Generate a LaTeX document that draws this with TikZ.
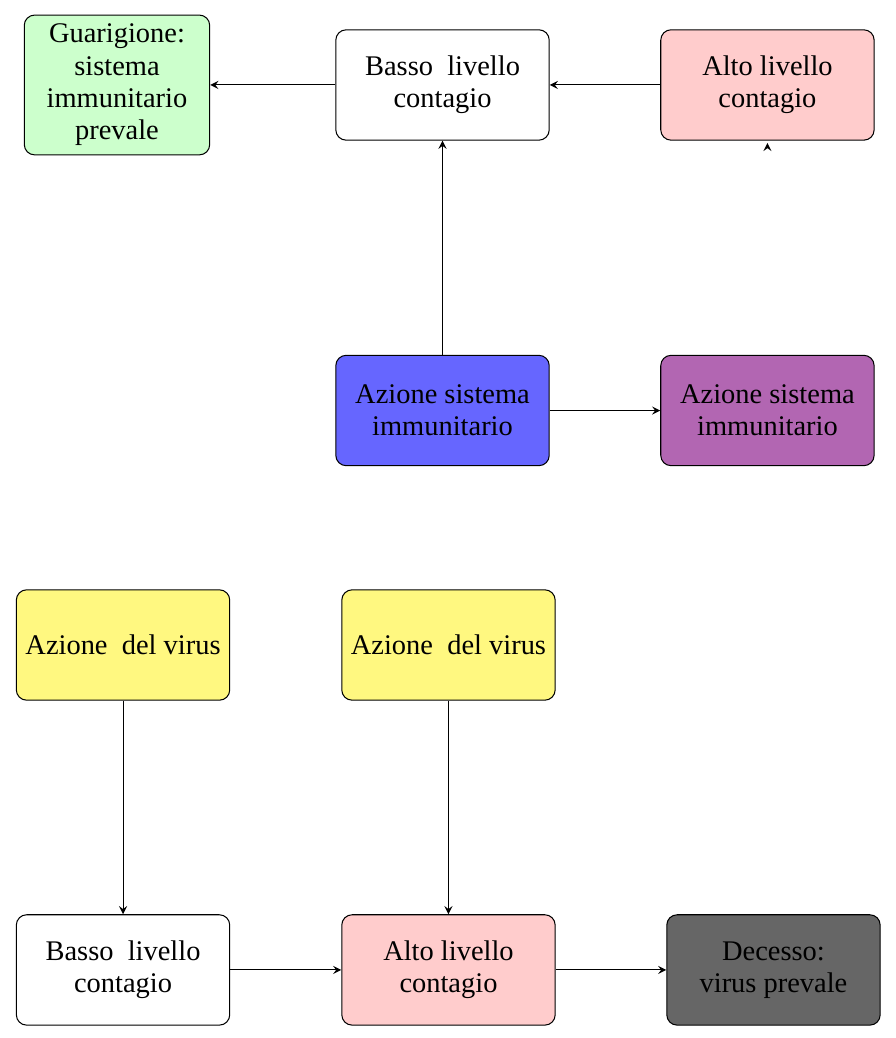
\documentclass[tikz,border=0pt]{standalone}
\usepackage{fontspec}
\setmainfont{Liberation Serif}[Ligatures=TeX]
\usetikzlibrary{arrows}

\tikzset{
  stato/.style={draw, rounded corners=4pt, align=center, minimum width=2.9cm,
    minimum height=1.5cm, font=\rmfamily\fontsize{11}{12.5}\selectfont},
  esito/.style={stato, text width=2.3cm, minimum width=0pt, minimum height=1.9cm, inner sep=0.11cm},
  freccia/.style={arrows={-stealth}, line width=.4pt}
}

\begin{document}
\begin{tikzpicture}
\useasboundingbox (0,0) rectangle (12.177,-14.107);

%sistema immunitario
\node[esito, fill=green!20] at (1.590,-1.155) (guarigione) {Guarigione:\\sistema\\immunitario\\prevale};
\node[stato, fill=white] at (6.014,-1.155) (bassoSu) {Basso\ \ livello\\contagio};
\node[stato, fill=red!20] at (10.430,-1.155) (altoSu) {Alto livello\\contagio};
\node[stato, fill=blue!60] at (6.014,-5.579) (immuno) {Azione sistema\\immunitario};
\node[stato, fill=violet!60] at (10.430,-5.579) (immunoDx) {Azione sistema\\immunitario};
\coordinate (altoPiede) at (10.430,-1.953);
\coordinate (altoPunta) at (10.430,-1.943);

%virus
\node[stato, fill=yellow!50] at (1.672,-8.766) (virusSx) {Azione\ \ del virus};
\node[stato, fill=yellow!50] at (6.095,-8.766) (virusDx) {Azione\ \ del virus};
\node[stato, fill=white] at (1.672,-13.182) (bassoGiu) {Basso\ \ livello\\contagio};
\node[stato, fill=red!20] at (6.095,-13.182) (altoGiu) {Alto livello\\contagio};
\node[stato, fill=black!60] at (10.512,-13.182) (decesso) {Decesso:\\virus prevale};

\draw[freccia] (bassoSu) to (guarigione);
\draw[freccia] (altoSu) to (bassoSu);
\draw[freccia] (immuno) to (bassoSu);
\draw[freccia] (immuno) to (immunoDx);
\draw[freccia] (altoPiede) to (altoPunta);

\draw[freccia] (virusSx) to (bassoGiu);
\draw[freccia] (virusDx) to (altoGiu);
\draw[freccia] (bassoGiu) to (altoGiu);
\draw[freccia] (altoGiu) to (decesso);

\end{tikzpicture}
\end{document}
